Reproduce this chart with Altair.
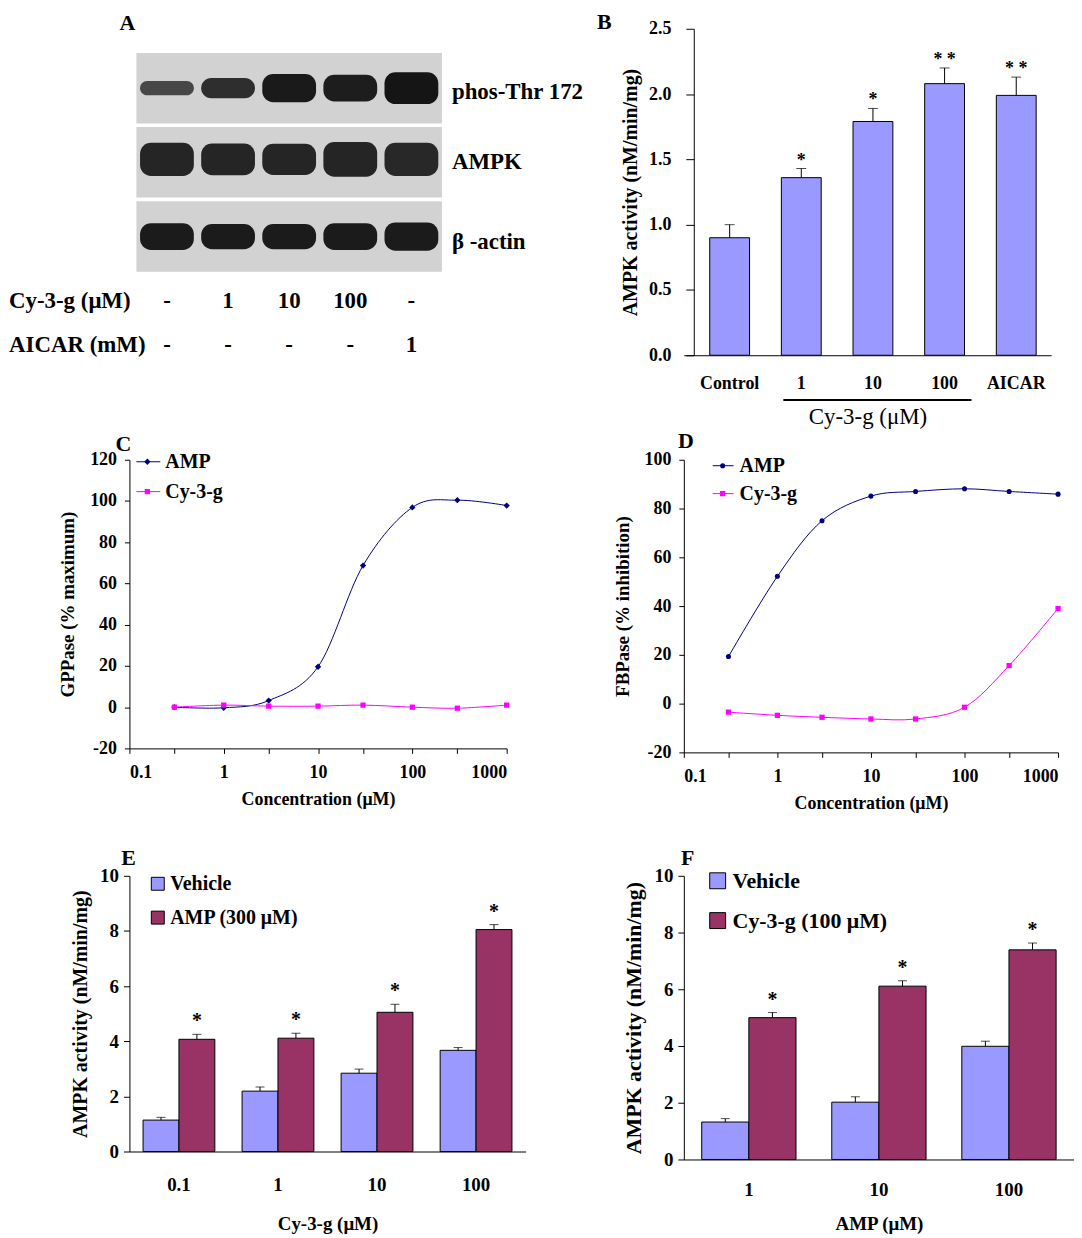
import altair as alt
import pandas as pd

FONT = "Liberation Serif"

# ---------------- data ----------------
# A: western blot
lanes = [1, 2, 3, 4, 5]
blot_labels = ["phos-Thr 172", "AMPK", "β -actin"]
blot_label_rows = [1.05, 2.0, 3.07]
phos_intensity = [0.70, 0.84, 0.97, 0.95, 1.00]
phos_thickness = [0.19, 0.27, 0.38, 0.36, 0.43]
ampk_intensity = [0.90, 0.90, 0.90, 0.90, 0.88]
ampk_thickness = [0.45, 0.43, 0.42, 0.47, 0.45]
actin_intensity = [0.96, 0.96, 0.96, 0.96, 0.96]
actin_thickness = [0.36, 0.34, 0.34, 0.36, 0.38]
row_labels = ["Cy-3-g (μM)", "AICAR (mM)"]
cy_lane_labels = ["-", "1", "10", "100", "-"]
aicar_lane_labels = ["-", "-", "-", "-", "1"]

# B
b_categories = ["Control", "1", "10", "100", "AICAR"]
b_values = [0.90, 1.36, 1.79, 2.08, 1.99]
b_errors = [0.10, 0.07, 0.10, 0.12, 0.14]
b_stars = ["", "*", "*", "* *", "* *"]

# C and D
concentrations = [0.3, 1, 3, 10, 30, 100, 300, 1000]
curve_series = ["AMP", "Cy-3-g"]
c_amp = [0.0, -0.3, 3.2, 19.6, 68.7, 96.9, 100.4, 97.8]
c_cy3g = [0.0, 1.0, 0.5, 0.5, 1.0, 0.0, -0.5, 1.0]
d_amp = [19.3, 52.2, 75.0, 85.1, 87.0, 88.1, 87.0, 85.9]
d_cy3g = [-3.5, -4.8, -5.6, -6.3, -6.3, -1.5, 15.6, 39.0]
log_ticks = [0.1, 0.3, 1, 3, 10, 30, 100, 300, 1000]

# E
e_categories = ["0.1", "1", "10", "100"]
e_series = ["Vehicle", "AMP (300 μM)"]
e_vehicle = [1.14, 2.19, 2.84, 3.67]
e_vehicle_err = [0.10, 0.15, 0.15, 0.10]
e_amp = [4.07, 4.11, 5.05, 8.05]
e_amp_err = [0.18, 0.18, 0.29, 0.18]

# F
f_categories = ["1", "10", "100"]
f_series = ["Vehicle", "Cy-3-g (100 μM)"]
f_vehicle = [1.32, 2.02, 3.99]
f_vehicle_err = [0.12, 0.19, 0.18]
f_cy3g = [5.00, 6.11, 7.39]
f_cy3g_err = [0.18, 0.19, 0.24]

BLUE = "#9999FF"
PLUM = "#993366"
NAVY = "#000080"
MAGENTA = "#FF00FF"

one = pd.DataFrame({"k": [0]})


def label_mark(text, x, y, size=22, align="center", weight="bold"):
    return alt.Chart(one).mark_text(
        font=FONT, fontSize=size, fontWeight=weight, align=align, baseline="middle", color="black"
    ).encode(x=alt.value(x), y=alt.value(y), text=alt.value(text))


# ---------------- panel A ----------------
xs_a = alt.Scale(domain=[0.386, 5.598], nice=False, zero=False)
ys_a = alt.Scale(domain=[0.2, 4.6], nice=False, zero=False, reverse=True)

strip_df = pd.DataFrame({"row": [1, 2, 3]})
strips = alt.Chart(strip_df).transform_calculate(
    x0="0.5", x1="5.5", y0="datum.row - 0.475", y1="datum.row + 0.475"
).mark_rect(color="#d2d2d2").encode(
    x=alt.X("x0:Q", scale=xs_a, axis=None), x2="x1:Q",
    y=alt.Y("y0:Q", scale=ys_a, axis=None), y2="y1:Q",
)

band_df = pd.DataFrame({
    "lane": lanes * 3,
    "row": [1] * 5 + [1.96] * 5 + [3] * 5,
    "intensity": phos_intensity + ampk_intensity + actin_intensity,
    "thick": phos_thickness + ampk_thickness + actin_thickness,
})
bands = alt.Chart(band_df).transform_calculate(
    x0="datum.lane - 0.44", x1="datum.lane + 0.44",
    y0="datum.row - datum.thick / 2", y1="datum.row + datum.thick / 2",
).mark_rect(cornerRadius=11).encode(
    x=alt.X("x0:Q", scale=xs_a, axis=None), x2="x1:Q",
    y=alt.Y("y0:Q", scale=ys_a, axis=None), y2="y1:Q",
    color=alt.Color("intensity:Q", scale=alt.Scale(domain=[0, 1], range=["#d2d2d2", "#151515"]), legend=None),
)

blot_label_df = pd.DataFrame({"label": blot_labels, "row": blot_label_rows, "x": [5.663] * 3})
blot_text = alt.Chart(blot_label_df).mark_text(
    font=FONT, fontSize=23, fontWeight="bold", align="left", baseline="middle", color="black"
).encode(x=alt.X("x:Q", scale=xs_a, axis=None), y=alt.Y("row:Q", scale=ys_a, axis=None), text="label:N")

row_label_df = pd.DataFrame({"label": row_labels, "row": [3.864, 4.468], "x": [-1.585, -1.585]})
row_text = alt.Chart(row_label_df).mark_text(
    font=FONT, fontSize=23, fontWeight="bold", align="left", baseline="middle", color="black"
).encode(x=alt.X("x:Q", scale=xs_a, axis=None), y=alt.Y("row:Q", scale=ys_a, axis=None), text="label:N")

lane_label_df = pd.DataFrame({
    "lane": lanes * 2,
    "row": [3.864] * 5 + [4.468] * 5,
    "label": cy_lane_labels + aicar_lane_labels,
})
lane_text = alt.Chart(lane_label_df).mark_text(
    font=FONT, fontSize=23, fontWeight="bold", align="center", baseline="middle", color="black"
).encode(x=alt.X("lane:Q", scale=xs_a, axis=None), y=alt.Y("row:Q", scale=ys_a, axis=None), text="label:N")

panel_a = alt.layer(
    strips, bands, blot_text, row_text, lane_text, label_mark("A", -2, -6)
).properties(width=320, height=328)

# ---------------- panel B ----------------
b_df = pd.DataFrame({"cat": b_categories, "val": b_values, "err": b_errors, "star": b_stars})
b_xaxis = alt.Axis(title="Cy-3-g (μM)", labelAngle=0, ticks=False, tickSize=0, labelFontSize=18,
                   labelPadding=19, titleFontSize=23, titleFontWeight="normal", titlePadding=14)
b_x = alt.X("cat:N", sort=b_categories,
            scale=alt.Scale(paddingInner=0.444, paddingOuter=0.285, align=0.634), axis=b_xaxis)
b_yscale = alt.Scale(domain=[0, 2.5], nice=False)
b_yaxis = alt.Axis(title="AMPK activity (nM/min/mg)", values=[0, 0.5, 1, 1.5, 2, 2.5], format=".1f",
                   tickSize=8, labelFontSize=18, labelPadding=15, titleFontSize=20, titlePadding=8, offset=-10)


def b_y(field):
    return alt.Y(field, scale=b_yscale, axis=b_yaxis)


b_base = alt.Chart(b_df).transform_calculate(top="datum.val + datum.err")
b_bars = b_base.mark_bar(color=BLUE, stroke="black", strokeWidth=1).encode(x=b_x, y=b_y("val:Q"))
b_err = b_base.mark_rule(color="black", strokeWidth=1).encode(x=b_x, y=b_y("val:Q"), y2="top:Q")
b_cap = b_base.mark_tick(color="black", thickness=1, size=10).encode(x=b_x, y=b_y("top:Q"))
b_star = b_base.mark_text(font=FONT, fontSize=18, fontWeight="bold", dy=-3, baseline="alphabetic",
                          color="black").encode(x=b_x, y=b_y("top:Q"), text="star:N")
b_underline = alt.Chart(one).mark_rule(color="black", strokeWidth=2).encode(
    x=alt.value(100), x2=alt.value(289), y=alt.value(373))

panel_b = alt.layer(b_bars, b_err, b_cap, b_star, b_underline, label_mark("B", -80, -7)).properties(
    width=369, height=328)

HYPHEN_LABEL = "datum.value < 0 ? '-' + format(-datum.value, '') : format(datum.value, '')"


# ---------------- panels C and D ----------------
def curve_panel(amp, cy, amp_shape, amp_size, ydomain, ytitle, w, h, letter, letter_pos, leg):
    df = pd.DataFrame({
        "conc": concentrations * 2,
        "val": amp + cy,
        "series": [curve_series[0]] * len(amp) + [curve_series[1]] * len(cy),
    })
    xaxis = alt.Axis(
        title="Concentration (μM)", values=log_ticks, tickSize=5, labelFontSize=18, labelPadding=10,
        titleFontSize=18, titlePadding=9,
        labelExpr="(datum.value == 0.1 || datum.value == 1 || datum.value == 10 || datum.value == 100 || datum.value == 1000) ? format(datum.value, '') : ''",
    )
    x = alt.X("conc:Q", scale=alt.Scale(type="log", domain=[0.1, 1000], nice=False), axis=xaxis)
    yvals = list(range(ydomain[0], ydomain[1] + 1, 20))
    y = alt.Y("val:Q", scale=alt.Scale(domain=ydomain, nice=False),
              axis=alt.Axis(title=ytitle, values=yvals, tickSize=5, labelFontSize=18, labelPadding=8,
                            titleFontSize=19, titlePadding=12, labelExpr=HYPHEN_LABEL))
    color = alt.Color("series:N", scale=alt.Scale(domain=curve_series, range=[NAVY, MAGENTA]), legend=None)
    line = alt.Chart(df).mark_line(strokeWidth=1, interpolate="cardinal").encode(x=x, y=y, color=color)
    layers = [line]
    for name, shape, size in [(curve_series[0], amp_shape, amp_size), (curve_series[1], "square", 28)]:
        layers.append(
            alt.Chart(df).transform_filter(alt.datum.series == name).mark_point(
                shape=shape, filled=True, opacity=1, size=size, strokeWidth=0
            ).encode(x=x, y=y, color=color)
        )
    # legend
    lx0, lx1, lxm, lxt, ly = leg
    for i, (name, col, shape, size) in enumerate(
            [(curve_series[0], NAVY, amp_shape, amp_size), (curve_series[1], MAGENTA, "square", 28)]):
        yy = ly[i]
        layers.append(alt.Chart(one).mark_rule(color=col, strokeWidth=1).encode(
            x=alt.value(lx0), x2=alt.value(lx1), y=alt.value(yy)))
        layers.append(alt.Chart(one).mark_point(shape=shape, filled=True, opacity=1, size=size,
                                                color=col, strokeWidth=0).encode(
            x=alt.value(lxm), y=alt.value(yy)))
        layers.append(label_mark(name, lxt, yy, size=20, align="left"))
    layers.append(label_mark(letter, letter_pos[0], letter_pos[1]))
    return alt.layer(*layers).properties(width=w, height=h)


panel_c = curve_panel(c_amp, c_cy3g, "diamond", 40, [-20, 120], "GPPase (% maximum)", 379, 290,
                      "C", (-6, -16), (7, 31, 18, 36, [2, 32]))
panel_d = curve_panel(d_amp, d_cy3g, "circle", 26, [-20, 100], "FBPase (% inhibition)", 376, 294,
                      "D", (2, -19), (29, 50, 39, 56, [6, 34]))


# ---------------- panels E and F ----------------
def grouped_panel(cats, names, s1, e1, s2, e2, w, h, xtitle, title_size, legend_font, leg, letter_pos,
                  letter, pads):
    n = len(cats)
    df = pd.DataFrame({
        "cat": cats * 2,
        "series": [names[0]] * n + [names[1]] * n,
        "val": s1 + s2,
        "err": e1 + e2,
        "star": [""] * n + ["*"] * n,
    })
    x = alt.X("cat:N", sort=cats, scale=alt.Scale(paddingInner=0.275, paddingOuter=0.1375),
              axis=alt.Axis(title=xtitle, labelAngle=0, ticks=False, tickSize=0, labelFontSize=19,
                            labelPadding=pads[0], titleFontSize=19, titlePadding=pads[1]))
    xo = alt.XOffset("series:N", sort=names, scale=alt.Scale(domain=names, paddingInner=0, paddingOuter=0))
    yscale = alt.Scale(domain=[0, 10], nice=False)
    yaxis = alt.Axis(title="AMPK activity (nM/min/mg)", values=[0, 2, 4, 6, 8, 10], tickSize=6,
                     labelFontSize=19, labelPadding=5, titleFontSize=title_size, titlePadding=9)

    def Y(f):
        return alt.Y(f, scale=yscale, axis=yaxis)

    color = alt.Color("series:N", scale=alt.Scale(domain=names, range=[BLUE, PLUM]), legend=None)
    base = alt.Chart(df).transform_calculate(top="datum.val + datum.err")
    bars = base.mark_bar(stroke="black", strokeWidth=1).encode(x=x, xOffset=xo, y=Y("val:Q"), color=color)
    err = base.mark_rule(color="black", strokeWidth=1).encode(x=x, xOffset=xo, y=Y("val:Q"), y2="top:Q")
    cap = base.mark_tick(color="black", thickness=1, size=9).encode(x=x, xOffset=xo, y=Y("top:Q"))
    star = base.mark_text(font=FONT, fontSize=20, fontWeight="bold", dy=-7, baseline="alphabetic",
                          color="black").encode(x=x, xOffset=xo, y=Y("top:Q"), text="star:N")
    layers = [bars, err, cap, star]
    sq_x, sq_size, txt_x, ys = leg
    for i, (name, col) in enumerate(zip(names, [BLUE, PLUM])):
        layers.append(alt.Chart(one).mark_square(size=sq_size, color=col, stroke="black", strokeWidth=1,
                                                 opacity=1).encode(x=alt.value(sq_x), y=alt.value(ys[i])))
        layers.append(label_mark(name, txt_x, ys[i], size=legend_font, align="left"))
    layers.append(label_mark(letter, letter_pos[0], letter_pos[1]))
    return alt.layer(*layers).properties(width=w, height=h)


panel_e = grouped_panel(e_categories, e_series, e_vehicle, e_vehicle_err, e_amp, e_amp_err, 398, 277,
                        "Cy-3-g (μM)", 20, 20, (28.5, 169, 41, [8, 42]), (-1, -18), "E", (24, 20))
panel_f = grouped_panel(f_categories, f_series, f_vehicle, f_vehicle_err, f_cy3g, f_cy3g_err, 392, 285,
                        "AMP (μM)", 22, 22, (34, 256, 49, [5, 45]), (4, -18), "F", (21, 15))


def spacer(h):
    return alt.Chart(one).mark_point(opacity=0).encode(x=alt.value(0), y=alt.value(0)).properties(
        width=1, height=h)


chart = alt.concat(
    panel_a, panel_b,
    spacer(105), spacer(105),
    panel_c, panel_d,
    spacer(124), spacer(124),
    panel_e, panel_f,
    columns=2, bounds="flush", align="each", spacing={"row": 0, "column": 159},
).resolve_scale(
    x="independent", y="independent", color="independent", xOffset="independent"
).properties(padding=0).configure_view(stroke=None).configure_axis(
    labelFont=FONT, titleFont=FONT, labelFontWeight="bold", titleFontWeight="bold",
    labelColor="black", titleColor="black", domainColor="black", tickColor="black",
    domainWidth=1, tickWidth=1, grid=False,
).configure_text(font=FONT)

chart.save("out.html", embed_options={"renderer": "svg", "actions": False})
